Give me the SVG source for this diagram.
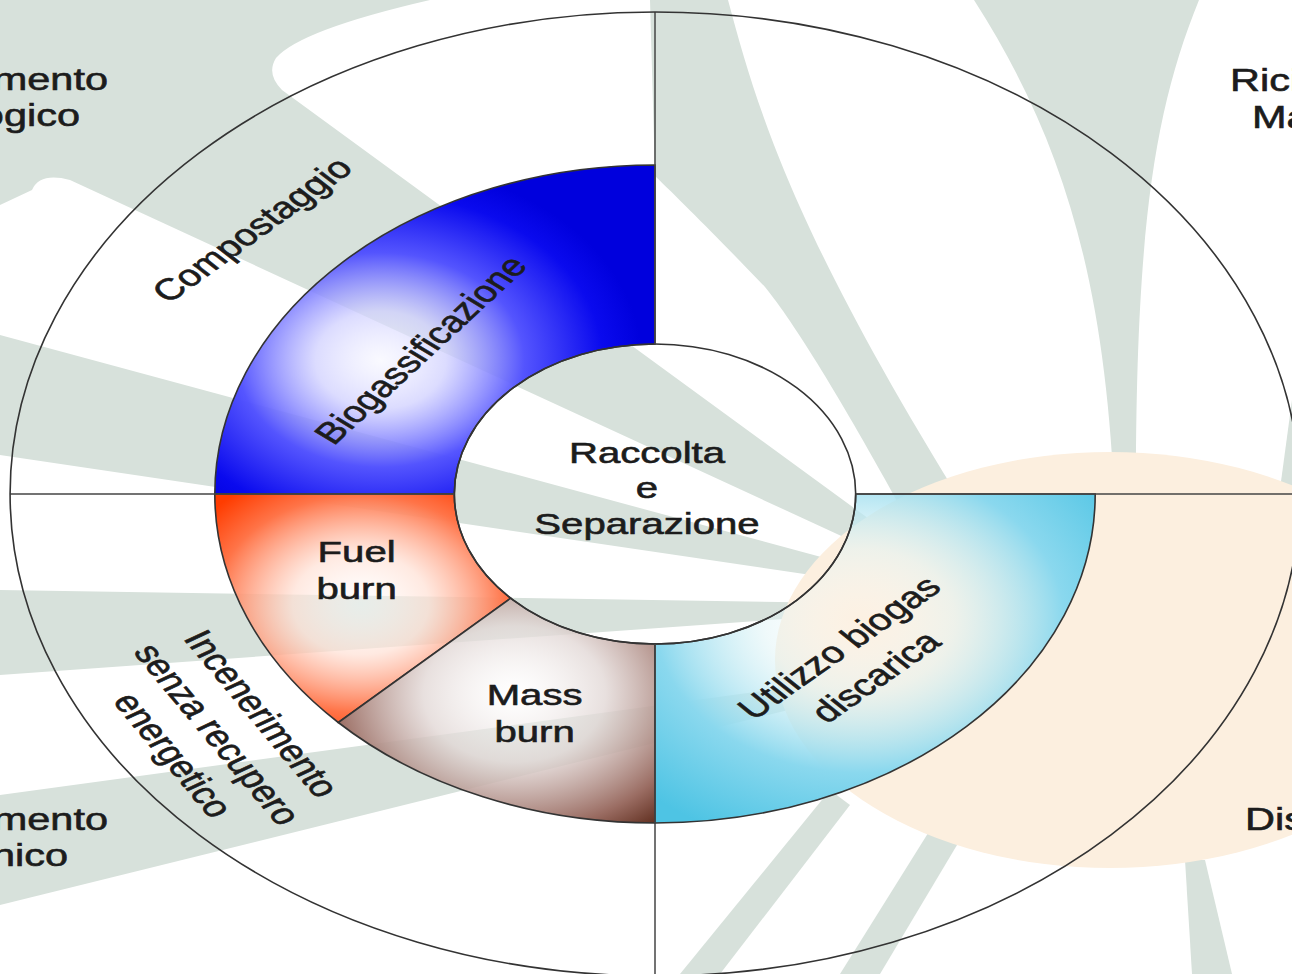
<svg xmlns="http://www.w3.org/2000/svg" width="1292" height="974" viewBox="0 0 1292 974">
<defs>
<style>
.gr{fill:#d7e1db}
.ol{fill:none;stroke:#333;stroke-width:1.6;vector-effect:non-scaling-stroke}
.ln{stroke:#444;stroke-width:1.5;vector-effect:non-scaling-stroke}
.t{font-family:'Liberation Sans',Arial,sans-serif;font-size:30px;fill:#1c1c1c;stroke:#1c1c1c;stroke-width:0.6;text-anchor:middle}
.e{font-family:'Liberation Sans',Arial,sans-serif;font-size:31px;fill:#1c1c1c;stroke:#1c1c1c;stroke-width:0.6}
</style>
<radialGradient id="gBlue" gradientUnits="userSpaceOnUse" cx="-205" cy="-134" r="195">
<stop offset="0" stop-color="#f4f4ff" stop-opacity="0.5"/>
<stop offset="0.25" stop-color="#d0d0ff" stop-opacity="0.75"/>
<stop offset="0.55" stop-color="#5050ff" stop-opacity="0.97"/>
<stop offset="0.85" stop-color="#0a0aee"/>
<stop offset="1" stop-color="#0000dd"/>
</radialGradient>
<radialGradient id="gFuel" gradientUnits="userSpaceOnUse" cx="-220" cy="110" r="145">
<stop offset="0" stop-color="#ffffff" stop-opacity="0.4"/>
<stop offset="0.35" stop-color="#ffe0d4" stop-opacity="0.7"/>
<stop offset="0.75" stop-color="#ff7448"/>
<stop offset="1" stop-color="#ff3c00"/>
</radialGradient>
<radialGradient id="gMass" gradientUnits="userSpaceOnUse" cx="-105" cy="200" r="170">
<stop offset="0" stop-color="#ffffff" stop-opacity="0.4"/>
<stop offset="0.4" stop-color="#e2d8d6" stop-opacity="0.8"/>
<stop offset="0.8" stop-color="#9a6c62"/>
<stop offset="1" stop-color="#5a2818"/>
</radialGradient>
<radialGradient id="gCyan" gradientUnits="userSpaceOnUse" cx="153" cy="126" r="235">
<stop offset="0" stop-color="#ffffff" stop-opacity="0.1"/>
<stop offset="0.3" stop-color="#e0f4f6" stop-opacity="0.5"/>
<stop offset="0.65" stop-color="#8ad8ee"/>
<stop offset="1" stop-color="#4ec4e4"/>
</radialGradient>
</defs>

<g id="background">
<rect width="1292" height="974" fill="#ffffff"/>
<path class="gr" d="M0,0 L430,0 Q300,30 276,58 Q266,74 282,90 L980,600 L70,180 Q40,172 32,190 L0,205 Z"/>
<path class="gr" d="M0,335 L980,600 L0,455 Z"/>
<path class="gr" d="M0,590 L980,605 L0,675 Z"/>
<path class="gr" d="M0,795 L990,660 L0,905 Z"/>
<path class="gr" d="M650,0 L728,0 C760,120 800,250 998,560 L940,580 C860,430 800,330 765,287 C720,240 680,200 655,176 Z"/>
<path class="gr" d="M974,0 L1199,0 C1150,120 1134,250 1136,545 L1116,545 C1110,300 1070,150 974,0 Z"/>
<path class="gr" d="M1292,400 L1292,600 L1265,600 Z"/>
<path class="gr" d="M1185,860 L1205,860 L1232,974 L1192,974 Z"/>
<path class="gr" d="M930,830 L960,840 L880,974 L840,974 Z"/>
<path class="gr" d="M830,790 L850,805 L720,974 L680,974 Z"/>
<ellipse cx="1110" cy="660" rx="335" ry="208" fill="#fcefdf"/>
</g>

<g transform="translate(655,494) scale(1.338,1)">
<g id="biogassificazione">
<path d="M-329,0 A329,329 0 0 1 0,-329 L0,-150 A150,150 0 0 0 -150,0 Z" fill="url(#gBlue)"/>
<path class="ol" d="M-329,0 A329,329 0 0 1 0,-329 L0,-150 A150,150 0 0 0 -150,0 Z"/>
<text class="t" font-size="31" transform="translate(-175,-144) rotate(-51)" y="10">Biogassificazione</text>
</g>
<g id="fuel-burn">
<path d="M-329,0 L-150,0 A150,150 0 0 0 -107.9,104.2 L-236.7,228.5 A329,329 0 0 1 -329,0 Z" fill="url(#gFuel)"/>
<path class="ol" d="M-329,0 L-150,0 A150,150 0 0 0 -107.9,104.2 L-236.7,228.5 A329,329 0 0 1 -329,0 Z"/>
<text class="t" x="-223" y="68">Fuel</text>
<text class="t" x="-223" y="105">burn</text>
</g>
<g id="mass-burn">
<path d="M-107.9,104.2 A150,150 0 0 0 0,150 L0,329 A329,329 0 0 1 -236.7,228.5 Z" fill="url(#gMass)"/>
<path class="ol" d="M-107.9,104.2 A150,150 0 0 0 0,150 L0,329 A329,329 0 0 1 -236.7,228.5 Z"/>
<text class="t" x="-90" y="211">Mass</text>
<text class="t" x="-90" y="248">burn</text>
</g>
<g id="utilizzo-biogas">
<path d="M150,0 L329,0 A329,329 0 0 1 0,329 L0,150 A150,150 0 0 0 150,0 Z" fill="url(#gCyan)"/>
<path class="ol" d="M150,0 L329,0 A329,329 0 0 1 0,329 L0,150 A150,150 0 0 0 150,0 Z"/>
<g transform="translate(152,169) rotate(-43)">
<text class="t" font-size="31" y="-11">Utilizzo biogas</text>
<text class="t" font-size="31" y="29">discarica</text>
</g>
</g>
<g id="raccolta">
<circle class="ol" cx="0" cy="0" r="150"/>
<text class="t" x="-6" y="-31">Raccolta</text>
<text class="t" x="-6" y="4">e</text>
<text class="t" x="-6" y="40">Separazione</text>
</g>
<g id="connectors">
<line class="ln" x1="0" y1="-482" x2="0" y2="-150"/>
<line class="ln" x1="-482" y1="0" x2="-150" y2="0"/>
<line class="ln" x1="150" y1="0" x2="482" y2="0"/>
<line class="ln" x1="0" y1="150" x2="0" y2="482"/>
</g>
<g id="outer-ring">
<ellipse class="ol" cx="0" cy="0" rx="482" ry="482"/>
<text class="t" font-size="31" transform="translate(-301,-264) rotate(-44)" y="10">Compostaggio</text>
<g transform="translate(-328,241) rotate(58)">
<text class="t" font-size="31" y="-30">Incenerimento</text>
<text class="t" font-size="31" y="9">senza recupero</text>
<text class="t" font-size="31" y="48">energetico</text>
</g>
</g>
</g>

<g id="edge-labels">
<text class="e" text-anchor="end" transform="translate(108,90) scale(1.338,1)">mento</text>
<text class="e" text-anchor="end" transform="translate(80,126) scale(1.338,1)">ogico</text>
<text class="e" text-anchor="end" transform="translate(108,830) scale(1.338,1)">mento</text>
<text class="e" text-anchor="end" transform="translate(68,866) scale(1.338,1)">nico</text>
<text class="e" transform="translate(1230,91) scale(1.338,1)">Rici</text>
<text class="e" transform="translate(1252,128) scale(1.338,1)">Ma</text>
<text class="e" transform="translate(1245,830) scale(1.338,1)">Dis</text>
</g>
</svg>
